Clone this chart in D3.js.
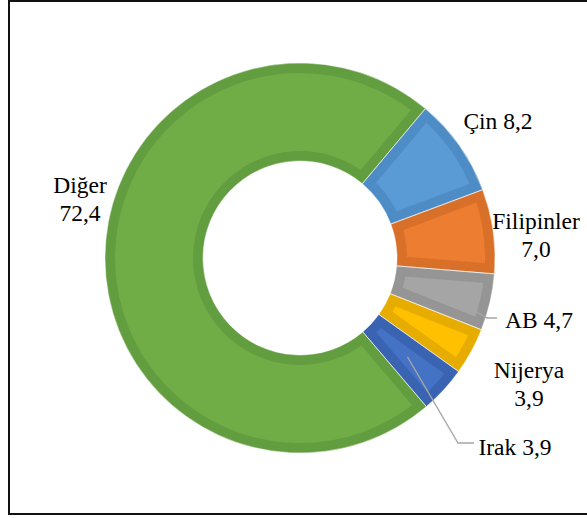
<!DOCTYPE html>
<html>
<head>
<meta charset="utf-8">
<script src="https://cdn.jsdelivr.net/npm/d3@7"></script>
<style>
	body { margin: 0; background: #fff; }
	svg { display: block; font-family: "Liberation Serif", "Times New Roman", Times, serif; }
</style>
</head>
<body>
<div id="chart"></div>
<script>
var categories = ["Çin", "Filipinler", "AB", "Nijerya", "Irak", "Diğer"];
var values = [8.2, 7.0, 4.7, 3.9, 3.9, 72.4];
var valueLabels = ["8,2", "7,0", "4,7", "3,9", "3,9", "72,4"];

var fills = ["#5B9BD5", "#ED7D31", "#A5A5A5", "#FFC000", "#4472C4", "#70AD47"];
var edges = ["#4E8CC6", "#D9702A", "#959595", "#E6AC00", "#3A64B2", "#629D3F"];

// where Excel put each data label (text lines, anchor x, first baseline)
var labelLayout = [
	{ lines: ["Çin 8,2"], x: 498, y: 129 },
	{ lines: ["Filipinler", "7,0"], x: 536, y: 229 },
	{ lines: ["AB 4,7"], x: 539, y: 328 },
	{ lines: ["Nijerya", "3,9"], x: 529, y: 378 },
	{ lines: ["Irak 3,9"], x: 515, y: 455 },
	{ lines: ["Diğer", "72,4"], x: 80, y: 193 }
];
// leader line elbows for the labels that have one
var leaders = { 2: [[487, 318], [497, 318]], 4: [[458, 443], [474, 443]] };

var width = 587,
	height = 518;

var cx = 300,
	cy = 258,
	outerR = 195,
	innerR = 97;

var svg = d3.select("#chart").append("svg")
	.attr("width", width)
	.attr("height", height);

svg.append("rect")
	.attr("x", 9)
	.attr("y", 1)
	.attr("width", 600)
	.attr("height", 513)
	.attr("fill", "#fff")
	.attr("stroke", "#111")
	.attr("stroke-width", 2);

var startAngle = 40 * Math.PI / 180;

var pie = d3.pie()
	.sort(null)
	.value(function(d) { return d; })
	.startAngle(startAngle)
	.endAngle(startAngle + 2 * Math.PI);

var arc = d3.arc()
	.innerRadius(innerR)
	.outerRadius(outerR);

var arcs = pie(values);

var g = svg.append("g").attr("transform", "translate(" + cx + "," + cy + ")");
var defs = svg.append("defs");

defs.selectAll("clipPath")
	.data(arcs)
	.enter()
	.append("clipPath")
	.attr("id", function(d, i) { return "clip" + i; })
	.append("path")
	.attr("d", arc);

// fill + darker inner edge band
g.selectAll(".slice")
	.data(arcs)
	.enter()
	.append("path")
	.attr("class", "slice")
	.attr("d", arc)
	.attr("clip-path", function(d, i) { return "url(#clip" + i + ")"; })
	.style("fill", function(d, i) { return fills[i]; })
	.style("stroke", function(d, i) { return edges[i]; })
	.style("stroke-width", 20)
	.style("stroke-linejoin", "miter");

// thin light seam between slices
g.selectAll(".seam")
	.data(arcs)
	.enter()
	.append("path")
	.attr("class", "seam")
	.attr("d", arc)
	.style("fill", "none")
	.style("stroke", "#fff")
	.style("stroke-opacity", 0.5)
	.style("stroke-width", 1);

// leader lines
Object.keys(leaders).forEach(function(k) {
	var c = arc.centroid(arcs[k]);
	var pts = [[cx + c[0], cy + c[1]]].concat(leaders[k]);
	svg.append("path")
		.attr("d", d3.line()(pts))
		.style("fill", "none")
		.style("stroke", "#A6A6A6")
		.style("stroke-width", 1.3);
});

var labels = svg.selectAll(".lbl")
	.data(labelLayout)
	.enter()
	.append("text")
	.attr("class", "lbl")
	.style("font-size", "23.5px")
	.attr("fill", "#000")
	.attr("text-anchor", "middle")
	.attr("y", function(d) { return d.y; });

labels.selectAll("tspan")
	.data(function(d) { return d.lines.map(function(t) { return { t: t, x: d.x }; }); })
	.enter()
	.append("tspan")
	.attr("x", function(d) { return d.x; })
	.attr("dy", function(d, i) { return i ? 27.5 : 0; })
	.text(function(d) { return d.t; });
</script>
</body>
</html>
